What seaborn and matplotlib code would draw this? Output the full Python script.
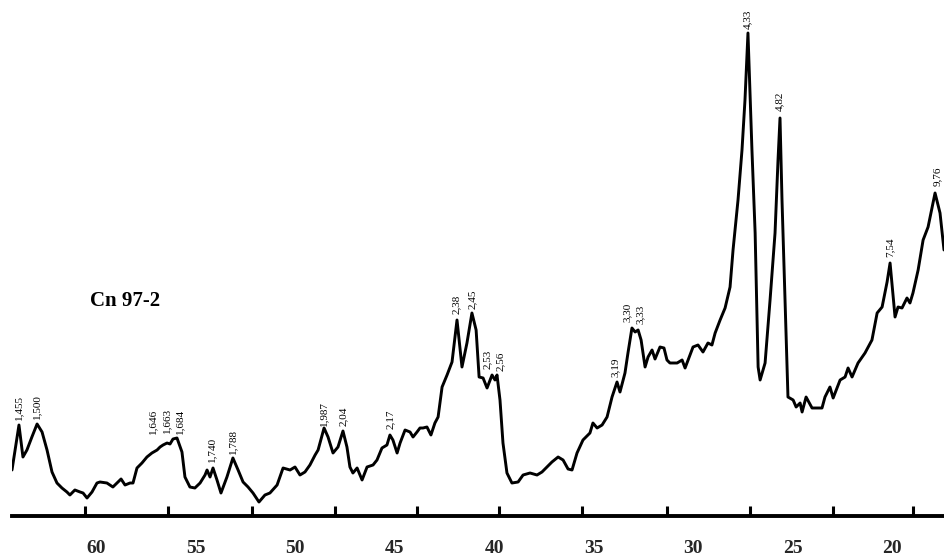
import matplotlib
matplotlib.use('agg')

import numpy as np
import pandas as pd
import matplotlib.pyplot as plt
import seaborn as sns

# diffractogram, sample Cn 97-2 (2theta, intensity a.u.)
two_theta = [64.22, 63.87, 63.67, 63.47, 63.22, 62.96, 62.71, 62.46, 62.21, 61.96,
             61.71, 61.46, 61.31, 61.06, 60.80, 60.65, 60.45, 60.20, 59.95, 59.80,
             59.45, 59.15, 58.89, 58.74, 58.54, 58.29, 58.14, 57.94, 57.69, 57.44,
             57.19, 56.93, 56.78, 56.63, 56.43, 56.28, 56.13, 55.93, 55.68, 55.53,
             55.28, 55.03, 54.77, 54.52, 54.42, 54.27, 54.12, 53.92, 53.72, 53.42,
             53.12, 52.86, 52.61, 52.36, 52.11, 51.81, 51.51, 51.26, 50.90, 50.60,
             50.25, 50.00, 49.75, 49.50, 49.25, 48.99, 48.84, 48.54, 48.34, 48.09,
             47.84, 47.59, 47.39, 47.24, 47.09, 46.88, 46.63, 46.38, 46.08, 45.88,
             45.63, 45.38, 45.23, 45.08, 44.87, 44.72, 44.47, 44.22, 44.07, 43.87,
             43.72, 43.57, 43.37, 43.17, 42.97, 42.81, 42.61, 42.36, 42.11, 41.86,
             41.61, 41.36, 41.11, 40.90, 40.75, 40.55, 40.35, 40.10, 39.95, 39.85,
             39.70, 39.55, 39.35, 39.10, 38.79, 38.54, 38.19, 37.84, 37.59, 37.34,
             37.09, 36.78, 36.53, 36.28, 36.08, 35.83, 35.53, 35.18, 35.03, 34.82,
             34.57, 34.32, 34.07, 33.82, 33.67, 33.42, 33.27, 33.07, 32.91, 32.76,
             32.61, 32.41, 32.26, 32.06, 31.91, 31.66, 31.46, 31.31, 31.16, 30.80,
             30.55, 30.40, 30.15, 30.00, 29.75, 29.50, 29.25, 29.05, 28.89, 28.64,
             28.39, 28.14, 27.99, 27.74, 27.54, 27.39, 27.24, 27.04, 26.88, 26.73,
             26.63, 26.38, 26.13, 25.88, 25.73, 25.63, 25.53, 25.38, 25.23, 24.97,
             24.82, 24.62, 24.52, 24.32, 24.02, 23.77, 23.52, 23.37, 23.12, 22.96,
             22.61, 22.36, 22.21, 22.01, 21.71, 21.36, 21.01, 20.75, 20.50, 20.25,
             20.10, 19.85, 19.70, 19.50, 19.25, 19.10, 18.95, 18.69, 18.44, 18.19,
             17.84, 17.59, 17.39]
intensity = [45, 90, 58, 65, 78, 91, 83, 65, 43, 32,
             27, 23, 20, 25, 23, 22, 17, 23, 32, 33,
             32, 28, 33, 36, 30, 32, 32, 47, 52, 58,
             62, 65, 68, 70, 72, 71, 76, 77, 63, 38,
             28, 27, 32, 40, 45, 38, 47, 35, 22, 38,
             57, 45, 33, 28, 22, 13, 20, 22, 30, 47,
             45, 48, 40, 43, 50, 60, 65, 87, 78, 62,
             68, 84, 68, 48, 42, 47, 35, 48, 50, 55,
             67, 70, 80, 75, 62, 72, 85, 83, 78, 83,
             87, 87, 88, 80, 92, 98, 128, 140, 153, 195,
             148, 172, 202, 185, 138, 137, 127, 140, 135, 140,
             115, 72, 42, 32, 33, 40, 42, 40, 43, 48,
             53, 58, 55, 46, 45, 62, 75, 82, 92, 87,
             90, 98, 118, 133, 123, 142, 162, 187, 183, 185,
             175, 148, 158, 165, 156, 168, 167, 155, 152, 152,
             155, 147, 160, 168, 170, 163, 172, 170, 182, 195,
             207, 228, 265, 315, 365, 415, 482, 365, 282, 148,
             135, 152, 215, 282, 355, 397, 315, 215, 118, 115,
             108, 112, 103, 118, 107, 107, 107, 118, 128, 117,
             135, 138, 147, 138, 152, 162, 175, 202, 208, 233,
             252, 198, 208, 207, 217, 212, 222, 245, 275, 288,
             322, 302, 265]

# d-spacing labels (text, 2theta, height of label foot)
peak_text = ["1,455", "1,500", "1,646", "1,663", "1,684", "1,740", "1,788",
             "1,987", "2,04", "2,17", "2,38", "2,45", "2,53", "2,56",
             "3,19", "3,30", "3,33", "4,33", "4,82", "7,54", "9,76"]
peak_pos = [63.87, 62.96, 57.14, 56.43, 55.78, 54.17, 53.12,
            48.54, 47.59, 45.23, 41.91, 41.11, 40.33, 39.68,
            33.92, 33.32, 32.66, 27.24, 25.63, 20.10, 17.74]
peak_foot = [95, 96, 81, 82, 81, 53, 61,
             89, 89, 86, 201, 206, 146, 144,
             138, 193, 191, 486, 404, 258, 329]

tick_marks = [60.55, 56.38, 52.16, 47.99, 43.87, 39.75, 35.58, 31.31, 27.14, 22.96, 18.94]
tick_labels = [60, 55, 50, 45, 40, 35, 30, 25, 20]

sns.set_theme(style='white')
plt.rcParams['font.family'] = ['Liberation Serif', 'DejaVu Serif']

df = pd.DataFrame({'two_theta': two_theta, 'intensity': intensity})

fig = plt.figure(figsize=(9.44, 5.6), dpi=100)
ax = fig.add_axes([12/944, 44/560, 932/944, 516/560])
sns.lineplot(data=df, x='two_theta', y='intensity', ax=ax, color='black',
             linewidth=2.1, sort=False, estimator=None)

ax.set_xlim(64.22, 17.39)
ax.set_ylim(-1, 515)

for txt, xp, yp in zip(peak_text, peak_pos, peak_foot):
    ax.text(xp, yp, txt, rotation=90, ha='center', va='bottom', fontsize=8,
            color='black')

ax.text(58.54, 214, "Cn 97-2", ha='center', va='center', fontsize=15,
        fontweight='bold', color='black')

for s in ['left', 'top', 'right']:
    ax.spines[s].set_visible(False)
ax.spines['bottom'].set_linewidth(2.8)
ax.spines['bottom'].set_color('black')

ax.set_xticks(tick_marks)
ax.set_xticklabels([])
ax.tick_params(axis='x', which='major', direction='in', length=7, width=2.2,
               color='black', bottom=True)
ax.set_xticks(tick_labels, minor=True)
ax.set_xticklabels([str(t) for t in tick_labels], minor=True)
ax.tick_params(axis='x', which='minor', length=0, pad=17, labelsize=14)
for lab in ax.get_xticklabels(minor=True):
    lab.set_fontweight('bold')
ax.set_yticks([])
ax.set_xlabel("")
ax.set_ylabel("")
ax.grid(False)

fig.savefig("out.png", dpi=100)
